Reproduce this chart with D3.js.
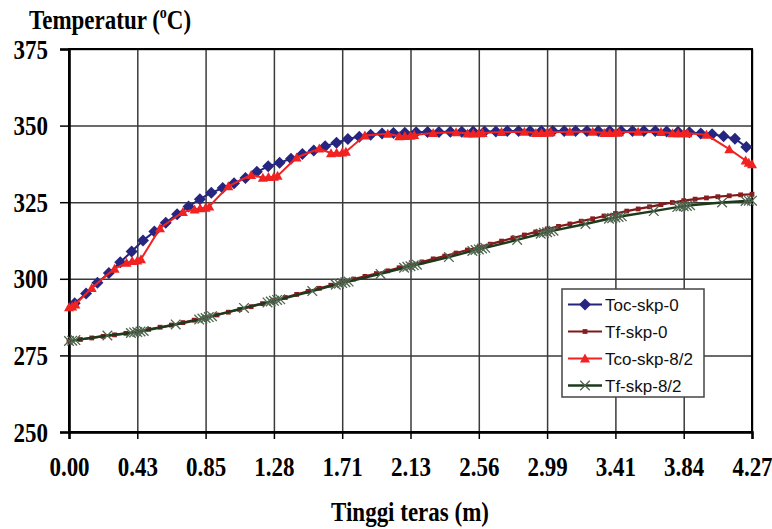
<!DOCTYPE html>
<html>
<head>
<meta charset="utf-8">
<script src="https://cdn.jsdelivr.net/npm/d3@7"></script>
<style>
  body { margin: 0; background: #fff; }
  svg { display: block; }
</style>
</head>
<body>
<div class="canvas"></div>
<script>
// x positions of the computation nodes (m)
const nodeX = [0, 0.0712, 0.1423, 0.2135, 0.2847, 0.3558, 0.4270, 0.4982, 0.5693, 0.6405,
  0.7117, 0.7828, 0.8540, 0.9252, 0.9963, 1.0675, 1.1387, 1.2098, 1.2810, 1.3522,
  1.4233, 1.4945, 1.5657, 1.6368, 1.7080, 1.7792, 1.8503, 1.9215, 1.9927, 2.0638,
  2.1350, 2.2062, 2.2773, 2.3485, 2.4197, 2.4908, 2.5620, 2.6332, 2.7043, 2.7755,
  2.8467, 2.9178, 2.9890, 3.0602, 3.1313, 3.2025, 3.2737, 3.3448, 3.4160, 3.4872,
  3.5583, 3.6295, 3.7007, 3.7718, 3.8430, 3.9142, 3.9853, 4.0565, 4.1277, 4.1988, 4.2700];

// x positions of cell centres (m)
const midX = [0.0356, 0.1068, 0.1779, 0.2491, 0.3203, 0.3914, 0.4626, 0.5338, 0.6049, 0.6761,
  0.7473, 0.8184, 0.8896, 0.9608, 1.0319, 1.1031, 1.1743, 1.2454, 1.3166, 1.3878,
  1.4589, 1.5301, 1.6013, 1.6724, 1.7436, 1.8148, 1.8859, 1.9571, 2.0283, 2.0994,
  2.1706, 2.2418, 2.3129, 2.3841, 2.4553, 2.5264, 2.5976, 2.6688, 2.7399, 2.8111,
  2.8823, 2.9534, 3.0246, 3.0958, 3.1669, 3.2381, 3.3093, 3.3804, 3.4516, 3.5228,
  3.5939, 3.6651, 3.7363, 3.8074, 3.8786, 3.9498, 4.0209, 4.0921, 4.1633, 4.2344];

// Toc-skp-0 (at midX)
const tocSkp0 = [292.0, 295.2, 298.7, 301.9, 305.4, 308.9, 312.5, 315.4, 318.3, 321.1,
  323.6, 326.0, 328.1, 329.6, 331.2, 332.9, 334.9, 336.7, 337.9, 339.2,
  340.7, 341.9, 343.3, 344.4, 345.6, 346.4, 347.0, 347.4, 347.6, 347.7,
  347.8, 347.9, 347.9, 348.0, 348.0, 348.1, 348.1, 348.1, 348.2, 348.2,
  348.2, 348.2, 348.2, 348.2, 348.2, 348.2, 348.2, 348.2, 348.2, 348.2,
  348.2, 348.2, 348.1, 348.0, 347.8, 347.4, 347.2, 346.5, 345.7, 343.0];

// Tf-skp-0 (at nodeX)
const tfSkp0 = [279.7, 280.2, 280.7, 281.2, 281.7, 282.2, 282.8,
  283.5, 284.2, 284.9, 285.7, 286.5, 287.3,
  288.2, 289.1, 290.0, 290.9, 291.9, 292.9,
  293.9, 294.9, 295.9, 296.9, 297.9, 298.9,
  299.9, 300.8, 301.7, 302.6, 303.6, 304.5,
  305.5, 306.5, 307.4, 308.4, 309.4, 310.3,
  311.3, 312.3, 313.3, 314.3, 315.3, 316.2,
  317.1, 317.9, 318.8, 319.6, 320.5, 321.3,
  322.1, 322.8, 323.5, 324.2, 324.9, 325.5,
  326.0, 326.4, 326.8, 327.1, 327.4, 327.6];

// Tco-skp-8/2
const tcoX = [0, 0.020, 0.040, 0.142, 0.285, 0.360, 0.395, 0.427, 0.450, 0.569, 0.712,
  0.785, 0.820, 0.854, 0.877, 0.996, 1.139, 1.212, 1.247, 1.281, 1.304, 1.423, 1.565,
  1.638, 1.673, 1.708, 1.731, 1.850, 1.993, 2.065, 2.100, 2.135, 2.158, 2.277, 2.420,
  2.492, 2.527, 2.562, 2.585, 2.704, 2.847, 2.919, 2.954, 2.989, 3.012, 3.131, 3.274,
  3.346, 3.381, 3.416, 3.439, 3.558, 3.701, 3.773, 3.808, 3.843, 3.866, 3.985, 4.128,
  4.230, 4.250, 4.270];
const tcoY = [290.7, 291.0, 291.6, 297.0, 303.3, 305.2, 305.8, 306.0, 306.4, 316.5, 321.8,
  322.6, 323.0, 323.2, 323.6, 330.2, 333.9, 333.0, 333.2, 333.3, 333.6, 339.6, 342.5,
  341.0, 341.1, 341.2, 341.5, 346.8, 347.3, 346.5, 346.6, 346.7, 346.9, 347.6, 347.8,
  347.4, 347.4, 347.5, 347.6, 347.9, 348.0, 347.6, 347.6, 347.7, 347.8, 348.0, 348.0,
  347.6, 347.6, 347.7, 347.8, 348.0, 347.9, 347.5, 347.5, 347.5, 347.5, 347.0, 342.3,
  338.6, 337.9, 337.4];

// Tf-skp-8/2
const tf82X = [0, 0.020, 0.040, 0.240, 0.387, 0.407, 0.427, 0.447, 0.467, 0.667,
  0.814, 0.834, 0.854, 0.874, 0.894, 1.094, 1.241, 1.261, 1.281, 1.301, 1.321, 1.521,
  1.668, 1.688, 1.708, 1.728, 1.748, 1.948, 2.095, 2.115, 2.135, 2.155, 2.175, 2.375,
  2.522, 2.542, 2.562, 2.582, 2.602, 2.802, 2.949, 2.969, 2.989, 3.009, 3.029, 3.229,
  3.376, 3.396, 3.416, 3.436, 3.456, 3.656, 3.803, 3.823, 3.843, 3.863, 3.883, 4.083,
  4.230, 4.250, 4.270];
const tf82Y = [279.7, 279.8, 280.0, 281.5, 282.3, 282.5, 282.6, 282.8, 283.0, 285.1,
  286.7, 287.0, 287.2, 287.5, 287.8, 290.5, 292.3, 292.6, 292.8, 293.1, 293.3, 296.0,
  298.1, 298.4, 298.6, 298.9, 299.1, 301.6, 303.6, 303.9, 304.1, 304.4, 304.6, 307.1,
  309.1, 309.4, 309.6, 309.9, 310.1, 312.7, 314.7, 315.0, 315.2, 315.5, 315.7, 317.9,
  319.6, 319.8, 320.0, 320.2, 320.4, 322.1, 323.4, 323.6, 323.7, 323.8, 324.0, 324.9,
  325.4, 325.5, 325.5];

const xTickVals = [0, 0.427, 0.854, 1.281, 1.708, 2.135, 2.562, 2.989, 3.416, 3.843, 4.27];
const xTickLabels = ["0.00", "0.43", "0.85", "1.28", "1.71", "2.13", "2.56", "2.99", "3.41", "3.84", "4.27"];
const yTicks = [250, 275, 300, 325, 350, 375];
const seriesNames = ["Toc-skp-0", "Tf-skp-0", "Tco-skp-8/2", "Tf-skp-8/2"];

var width = 772;
var height = 529;
var pLeft = 69, pRight = 752, pTop = 49, pBottom = 432;
var serif = "'Liberation Serif', 'Times New Roman', serif";
var sans = "'Liberation Sans', Arial, sans-serif";

/* Scale */
var xScale = d3.scaleLinear().domain([0, 4.27]).range([pLeft, pRight]);
var yScale = d3.scaleLinear().domain([250, 375]).range([pBottom, pTop]);

var svg = d3
  .select(".canvas")
  .append("svg")
  .attr("width", width)
  .attr("height", height);

/* Grid */
svg
  .append("g")
  .attr("transform", `translate(0, ${pBottom})`)
  .call(d3.axisBottom(xScale).tickValues(xTickVals).tickSize(-(pBottom - pTop)).tickFormat(""))
  .call((g) => g.select(".domain").remove())
  .selectAll("line")
  .attr("stroke", "#3a3a3a")
  .attr("stroke-width", 1.5);
svg
  .append("g")
  .attr("transform", `translate(${pLeft}, 0)`)
  .call(d3.axisLeft(yScale).tickValues(yTicks).tickSize(-(pRight - pLeft)).tickFormat(""))
  .call((g) => g.select(".domain").remove())
  .selectAll("line")
  .attr("stroke", "#3a3a3a")
  .attr("stroke-width", 1.5);

svg
  .append("rect")
  .attr("x", pLeft)
  .attr("y", pTop)
  .attr("width", pRight - pLeft)
  .attr("height", pBottom - pTop)
  .attr("fill", "none")
  .attr("stroke", "#000")
  .attr("stroke-width", 2);

/* Axes */
var xAxis = svg
  .append("g")
  .attr("transform", `translate(0, ${pBottom})`)
  .call(
    d3.axisBottom(xScale).tickValues(xTickVals).tickSize(7).tickPadding(15)
      .tickFormat((d, i) => xTickLabels[i])
  );
xAxis.select(".domain").attr("stroke", "#000").attr("stroke-width", 2.5);
xAxis.selectAll("line").attr("stroke", "#000").attr("stroke-width", 1.5);
xAxis
  .selectAll("text")
  .attr("fill", "#000")
  .style("font-family", serif)
  .style("font-size", "23px")
  .style("font-weight", "bold")
  .attr("transform", "scale(1,1.15)");

var yAxis = svg
  .append("g")
  .attr("transform", `translate(${pLeft}, 0)`)
  .call(d3.axisLeft(yScale).tickValues(yTicks).tickSize(9).tickPadding(12));
yAxis.select(".domain").attr("stroke", "#000").attr("stroke-width", 2.5);
yAxis.selectAll("line").attr("stroke", "#000").attr("stroke-width", 1.5);
yAxis
  .selectAll("text")
  .attr("fill", "#000")
  .style("font-family", serif)
  .style("font-size", "23px")
  .style("font-weight", "bold")
  .attr("dy", null)
  .attr("dominant-baseline", "central")
  .attr("transform", "scale(1,1.15)");

/* Series */
var line = d3.line().x((d) => xScale(d[0])).y((d) => yScale(d[1]));

var series = [
  { name: seriesNames[0], pts: d3.zip(midX, tocSkp0), color: "#24247a", width: 2, marker: "diamond", mcolor: "#262680" },
  { name: seriesNames[1], pts: d3.zip(nodeX, tfSkp0), color: "#7e1919", width: 2.2, marker: "square", mcolor: "#8a1c1f" },
  { name: seriesNames[2], pts: d3.zip(tcoX, tcoY), color: "#f02222", width: 2, marker: "triangle", mcolor: "#f02222" },
  { name: seriesNames[3], pts: d3.zip(tf82X, tf82Y), color: "#1c3a1c", width: 2.4, marker: "x", mcolor: "#4f654f" },
];

var markerPath = {
  diamond: "M0,-6L6,0L0,6L-6,0Z",
  square: "M-2.4,-2.4H2.4V2.4H-2.4Z",
  triangle: "M0,-5L5,4H-5Z",
  x: "M-4.8,-4.8L4.8,4.8M-4.8,4.8L4.8,-4.8",
};

function drawMarker(g, s) {
  var p = g.append("path").attr("d", markerPath[s.marker]);
  if (s.marker === "x") {
    p.attr("fill", "none").attr("stroke", s.mcolor).attr("stroke-width", 1.3);
  } else {
    p.attr("fill", s.mcolor).attr("stroke", "none");
  }
  return p;
}

var lines = svg.append("g").attr("class", "lines");
series.forEach(function (s) {
  var grp = lines.append("g").attr("class", "line-group");
  grp
    .append("path")
    .attr("d", line(s.pts))
    .attr("fill", "none")
    .attr("stroke", s.color)
    .attr("stroke-width", s.width);
  grp
    .selectAll(".mk")
    .data(s.pts)
    .enter()
    .append("g")
    .attr("class", "mk")
    .attr("transform", (d) => `translate(${xScale(d[0])}, ${yScale(d[1])})`)
    .each(function () {
      drawMarker(d3.select(this), s);
    });
});

/* Titles */
var yTitle = svg
  .append("text")
  .attr("x", 29)
  .attr("y", 29)
  .attr("transform", "translate(0,-4.5) scale(1,1.15)")
  .style("font-family", serif)
  .style("font-size", "23px")
  .style("font-weight", "bold")
  .attr("fill", "#000");
yTitle.append("tspan").text("Temperatur (");
yTitle.append("tspan").attr("dy", -9).style("font-size", "14px").text("o");
yTitle.append("tspan").attr("dy", 9).text("C)");

svg
  .append("text")
  .attr("x", 410)
  .attr("y", 453)
  .attr("transform", "scale(1,1.15)")
  .attr("text-anchor", "middle")
  .style("font-family", serif)
  .style("font-size", "23px")
  .style("font-weight", "bold")
  .attr("fill", "#000")
  .text("Tinggi teras (m)");

/* Legend */
var legend = svg.append("g").attr("class", "legend");
legend
  .append("rect")
  .attr("x", 562)
  .attr("y", 289)
  .attr("width", 142)
  .attr("height", 108)
  .attr("fill", "#fff")
  .attr("stroke", "#444")
  .attr("stroke-width", 1.5);
series.forEach(function (s, i) {
  var row = legend.append("g").attr("transform", `translate(0, ${304.5 + i * 27})`);
  row
    .append("line")
    .attr("x1", 568)
    .attr("x2", 602)
    .attr("stroke", s.color)
    .attr("stroke-width", s.width);
  drawMarker(row.append("g").attr("transform", "translate(585,0)"), s);
  row
    .append("text")
    .attr("x", 605)
    .attr("dy", "0.36em")
    .style("font-family", sans)
    .style("font-size", "17px")
    .attr("fill", "#111")
    .text(s.name);
});
</script>
</body>
</html>
